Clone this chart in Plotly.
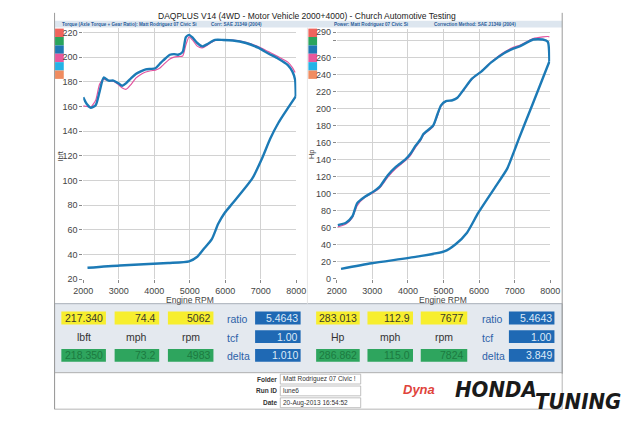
import plotly.graph_objects as go

W, H = 640, 426
def X(p): return p / W
def Y(p): return 1 - p / H

# ---------------- data ----------------
tq_rpm = [2000, 2100, 2210, 2350, 2460, 2575, 2710, 2850, 2980, 3100, 3210, 3350, 3480, 3620, 3760, 3900,
          4030, 4150, 4260, 4440, 4560, 4670, 4800, 4890, 4980, 5075, 5210, 5350, 5480, 5600, 5710, 5940,
          6210, 6580, 6940, 7210, 7480, 7760, 7890, 7965, 7983]
tq_blue = [167.5, 162, 159, 161, 172, 183.5, 181, 181, 179, 176.8, 179, 183, 186.4, 188.5, 190.1, 190.5,
           191, 194.5, 197.6, 202, 202.5, 202, 204.3, 216.3, 218.1, 216, 211.5, 208.8, 210.4, 212.5, 214, 214,
           213.6, 211.5, 207.5, 203, 199, 193.6, 188.3, 181.6, 168.2]
tq_pink_rpm = tq_rpm[:-1]
tq_pink = [160.5, 160, 159.5, 165, 178, 182, 181, 180.5, 178, 175, 174, 178, 183, 186, 188, 189,
           189.5, 191, 194, 198.5, 200, 200.5, 201, 210, 216.5, 214, 209, 207.5, 209.5, 212, 213.5, 213.8,
           213.8, 212, 208.5, 204.5, 200.5, 196, 191.5, 187.6]
tq_low_rpm = [2120, 3030, 4390, 4980, 5210, 5390, 5620, 5800, 5980, 6210, 6760, 7030, 7260, 7500, 7983]
tq_low = [29.1, 31, 33, 34.4, 38.1, 44.3, 52.3, 64.8, 73.6, 81.6, 101.6, 117.6, 133.6, 147, 168.2]

hp_rpm = [2030, 2260, 2440, 2575, 2800, 3030, 3210, 3435, 3660, 3930, 4070, 4205, 4360, 4435, 4705, 4815,
          4930, 5070, 5250, 5390, 5570, 5800, 6070, 6340, 6700, 6975, 7155, 7520, 7790, 7930, 7975]
hp_blue = [63, 65.8, 73.5, 89, 96.8, 102.5, 108.4, 121.8, 131.6, 140.4, 147, 156, 164.4, 170.3, 180, 191.8,
           204, 209, 210, 213, 222.7, 235.5, 244, 254.5, 265.4, 271, 273.8, 281.5, 281.5, 278.8, 255.6]
hp_pink = [61, 64.5, 72, 86, 96, 101.5, 107, 119.5, 129.5, 139, 145, 154, 163, 169, 179, 190,
           203, 208.5, 210, 213, 222, 235, 244.5, 255, 266.5, 272.5, 275, 282.5, 284.5, 285, 284.6]
hp_low_rpm = [2120, 2980, 4250, 5020, 5340, 5660, 5975, 6430, 6790, 6975, 7110, 7500, 7975]
hp_low = [11.6, 18.2, 26, 32.1, 40.6, 54.2, 77.4, 106.4, 129.6, 149, 164, 205, 255.6]

x_ticks = [2000, 3000, 4000, 5000, 6000, 7000, 8000]
tq_ticks = [20, 40, 60, 80, 100, 120, 140, 160, 180, 200, 220]
hp_ticks = [0, 20, 40, 60, 80, 100, 120, 140, 160, 180, 200, 220, 240, 260, 280, 290]
hp_ticktext = [str(v) if v != 280 else "" for v in hp_ticks]

title = "DAQPLUS V14 (4WD - Motor Vehicle 2000+4000) - Church Automotive Testing"
sub_left = ["Torque (Axle Torque + Gear Ratio): Matt Rodriguez 07 Civic Si", "Corr: SAE J1349 (2004)"]
sub_right = ["Power: Matt Rodriguez 07 Civic Si", "Correction Method: SAE J1349 (2004)"]

left_yellow = ["217.340", "74.4", "5062"]
left_green = ["218.350", "73.2", "4983"]
left_units = ["lbft", "mph", "rpm"]
right_yellow = ["283.013", "112.9", "7677"]
right_green = ["286.862", "115.0", "7824"]
right_units = ["Hp", "mph", "rpm"]
fac_names = ["ratio", "tcf", "delta"]
left_fac = ["5.4643", "1.00", "1.010"]
right_fac = ["5.4643", "1.00", "3.849"]
info_labels = ["Folder", "Run ID", "Date"]
info_values = ["Matt Rodriguez 07 Civic !", "lune6", "20-Aug-2013 16:54:52"]
swatch_colors = ["#f0645c", "#2aa45c", "#1f78b4", "#e8589c", "#24b2e6", "#f08c60"]

BLUE = "#1c7ab6"
PINK = "#e2559f"
FONT = "Liberation Sans, Arial"

fig = go.Figure()
spl = dict(shape="spline", smoothing=0.6)
fig.add_trace(go.Scatter(x=tq_pink_rpm, y=tq_pink, mode="lines", line=dict(color=PINK, width=1.2, **spl), xaxis="x", yaxis="y"))
fig.add_trace(go.Scatter(x=tq_rpm, y=tq_blue, mode="lines", line=dict(color=BLUE, width=2.4, **spl), xaxis="x", yaxis="y"))
fig.add_trace(go.Scatter(x=tq_low_rpm, y=tq_low, mode="lines", line=dict(color=BLUE, width=2.4, **spl), xaxis="x", yaxis="y"))
fig.add_trace(go.Scatter(x=hp_rpm, y=hp_pink, mode="lines", line=dict(color=PINK, width=1.2, **spl), xaxis="x2", yaxis="y2"))
fig.add_trace(go.Scatter(x=hp_rpm, y=hp_blue, mode="lines", line=dict(color=BLUE, width=2.4, **spl), xaxis="x2", yaxis="y2"))
fig.add_trace(go.Scatter(x=hp_low_rpm, y=hp_low, mode="lines", line=dict(color=BLUE, width=2.4, **spl), xaxis="x2", yaxis="y2"))

axis_common = dict(showgrid=True, gridcolor="#d2d2d2", gridwidth=1, zeroline=False, showline=False,
                   ticks="outside", ticklen=3, tickcolor="#888", tickfont=dict(family=FONT, size=9, color="#444"))

fig.update_layout(
    xaxis=dict(domain=[X(75.6), X(295.6)], range=[2000, 8000], tickvals=x_ticks, anchor="y", **axis_common),
    yaxis=dict(domain=[Y(282), Y(282 - 204 * 1.25)], range=[20, 224], tickvals=tq_ticks, anchor="x", **axis_common),
    xaxis2=dict(domain=[X(337.3), X(557.7)], range=[2000, 8000], tickvals=x_ticks, anchor="y2", **axis_common),
    yaxis2=dict(domain=[Y(281.7), Y(281.7 - 294 * 0.862)], range=[0, 294], tickvals=hp_ticks, ticktext=hp_ticktext, anchor="x2", **axis_common),
)

shapes = []
ann = []
def rect(x0, x1, y0, y1, fill, line="rgba(0,0,0,0)", lw=0):
    shapes.append(dict(type="rect", xref="paper", yref="paper", x0=X(x0), x1=X(x1), y0=Y(y1), y1=Y(y0),
                       fillcolor=fill, line=dict(color=line, width=lw), layer="below"))
def line(x0, y0, x1, y1, color="#999", w=1):
    shapes.append(dict(type="line", xref="paper", yref="paper", x0=X(x0), x1=X(x1), y0=Y(y0), y1=Y(y1),
                       line=dict(color=color, width=w)))
def text(x, y, s, size=10, color="#333", xanchor="center", family=FONT, angle=0):
    ann.append(dict(xref="paper", yref="paper", x=X(x), y=Y(y), text=s, showarrow=False, xanchor=xanchor,
                    yanchor="middle", textangle=angle, borderpad=0, font=dict(family=family, size=size, color=color)))

# frame
line(46, 12, 46, 414, "#9a9a9a")
line(570, 12, 570, 378, "#9a9a9a")
line(307, 27, 307, 307, "#e6e6e6")
rect(46, 570, 20, 27, "#dde6ef")
rect(46, 570, 307, 377, "#e4e9ef", "#a9b0b8", 1)
rect(46, 570, 377, 414, "#ffffff", "#b5b5b5", 1)

text(307, 15, title, size=8.5, color="#222")
text(53, 23.5, "<b>" + sub_left[0] + "</b>", size=4.6, color="#2a5d9a", xanchor="left")
text(206, 23.5, "<b>" + sub_left[1] + "</b>", size=4.6, color="#2a5d9a", xanchor="left")
text(333, 23.5, "<b>" + sub_right[0] + "</b>", size=4.6, color="#2a5d9a", xanchor="left")
text(437, 23.5, "<b>" + sub_right[1] + "</b>", size=4.6, color="#2a5d9a", xanchor="left")

for i, c in enumerate(swatch_colors):
    y0 = 28 + i * 8.5
    rect(46.5, 55.5, y0, y0 + 8.5, c)
    rect(308, 317, y0, y0 + 8.5, c)

text(52, 157, "lbft", size=7.5, color="#444", angle=-90)
text(312, 155, "Hp", size=7.5, color="#444", angle=-90)
text(186, 303.5, "Engine RPM", size=8.5, color="#444")
text(447, 303.5, "Engine RPM", size=8.5, color="#444")

def panel(xs, yellow, green, units, fac_x, fac_names, fac_box, fac_vals):
    for (x0, x1), yv, gv, u in zip(xs, yellow, green, units):
        rect(x0, x1, 315, 328, "#f7ee2e")
        text(x1 - 2, 321.5, yv, size=10.5, color="#3a3a2a", xanchor="right")
        rect(x0, x1, 353, 366, "#2ea55e")
        text(x1 - 2, 359.5, gv, size=10.5, color="#1c7a40", xanchor="right")
        text((x0 + x1) / 2, 341, u, size=10.5, color="#333")
    for (y0, y1), n, v in zip([(315, 328), (334, 347), (353, 366)], fac_names, fac_vals):
        text(fac_x, (y0 + y1) / 2 + 1, n, size=10.5, color="#2d62a8", xanchor="left")
        rect(fac_box[0], fac_box[1], y0, y1, "#1f69b4")
        text(fac_box[1] - 2, (y0 + y1) / 2, v, size=10.5, color="#dde9f7", xanchor="right")

panel([(53, 99), (108, 154), (163, 210)], left_yellow, left_green, left_units, 223, fac_names, (253, 300), left_fac)
panel([(316, 361), (369, 416), (424, 472)], right_yellow, right_green, right_units, 486, fac_names, (515, 562), right_fac)

for i, (lab, val) in enumerate(zip(info_labels, info_values)):
    yc = 383.5 + i * 12
    text(277, yc, "<b>" + lab + "</b>", size=6.5, color="#333", xanchor="right")
    rect(279, 362, yc - 5, yc + 5, "#ffffff", "#b0b0b0", 0.8)
    text(281, yc, val, size=6.5, color="#333", xanchor="left")

text(405, 394, "<b><i>Dyna</i></b>", size=13, color="#e0443c", xanchor="left")
text(458, 394, "<b><i>HONDA</i></b>", size=22, color="#1a1a1a", xanchor="left", family="DejaVu Sans Condensed, Liberation Sans")
text(541, 406, "<b><i>TUNING</i></b>", size=22, color="#1a1a1a", xanchor="left", family="DejaVu Sans Condensed, Liberation Sans")

fig.update_layout(width=W, height=H, margin=dict(l=0, r=0, t=0, b=0), paper_bgcolor="white", plot_bgcolor="white",
                  shapes=shapes, annotations=ann, showlegend=False)
fig.write_html("out.html", config={"displayModeBar": False},
               post_script="document.body.style.margin='0';document.body.style.padding='0';document.documentElement.style.overflow='hidden';")
